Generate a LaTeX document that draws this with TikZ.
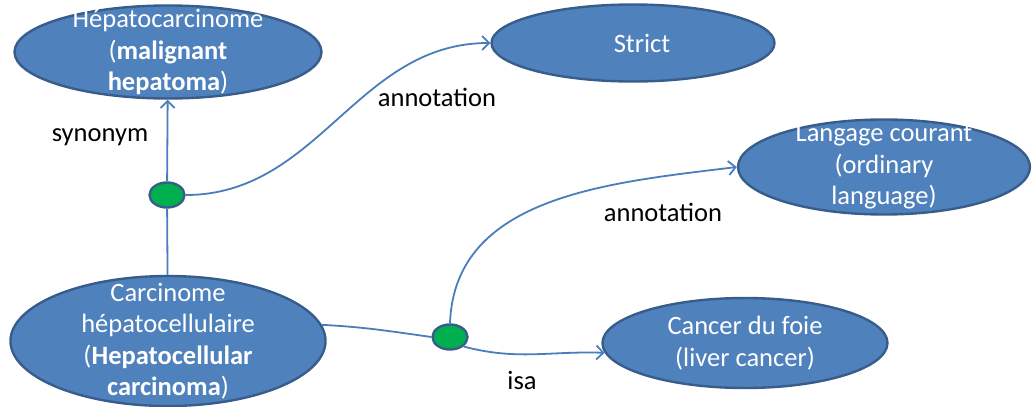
\documentclass[tikz,border=0pt]{standalone}
\usepackage{fontspec}
\setmainfont{Carlito}
\usetikzlibrary{arrows.meta, shapes.geometric, positioning}
\definecolor{conceptblue}{RGB}{79,129,189}
\definecolor{conceptline}{RGB}{56,93,138}
\definecolor{linkblue}{RGB}{74,126,187}
\definecolor{dotgreen}{RGB}{0,176,80}
\tikzset{
    concept/.style={ellipse, draw=conceptline, fill=conceptblue, line width=2.4pt, inner sep=0pt},
    ctext/.style={text=white, align=center, font=\fontsize{26.5}{31.5}\selectfont},
    reldot/.style={ellipse, draw=conceptline, fill=dotgreen, line width=2.4pt,
        minimum width=35pt, minimum height=25pt, inner sep=0pt},
    link/.style={draw=linkblue, line width=1.8pt},
    linkto/.style={link, -{Straight Barb[length=7pt,width=14pt]}},
    rellabel/.style={text=black, font=\fontsize{26.5}{31.5}\selectfont}
}

\begin{document}
\begin{tikzpicture}[x=1pt, y=-1pt]
    \useasboundingbox (0,0) rectangle (1034,407);
    % concepts
    \node[concept, minimum width=307pt, minimum height=93pt] (hep) at (168,52) {};
    \node[concept, minimum width=283pt, minimum height=77pt] (strict) at (633,43) {};
    \node[concept, minimum width=292pt, minimum height=95pt] (langage) at (884,167) {};
    \node[concept, minimum width=315pt, minimum height=130pt] (carc) at (168,341) {};
    \node[concept, minimum width=285pt, minimum height=90pt] (cancer) at (745,343) {};
    \node[ctext] (hepText) at (hep) {Hépatocarcinome\\(\textbf{malignant}\\\textbf{hepatoma})};
    \node[ctext] (strictText) at (642,43) {Strict};
    \node[ctext] (langageText) at (langage) {Langage courant\\(ordinary\\language)};
    \node[ctext] (carcText) at (carc) {Carcinome\\hépatocellulaire\\(\textbf{Hepatocellular}\\\textbf{carcinoma})};
    \node[ctext] (cancerText) at (cancer) {Cancer du foie\\(liver cancer)};
    % relation points
    \node[reldot] (dot1) at (167,195) {};
    \node[reldot] (dot2) at (450,337) {};
    % links
    \draw[link] (carc) -- (dot1);
    \draw[linkto] (dot1) -- (hep);
    \draw[linkto] (dot1.east) to[out=0, in=180] (strict.west);
    \draw[link] (carc.6) to[out=-3, in=172] (dot2.west);
    \draw[linkto] (dot2.-35) to[out=-15, in=178] (cancer.184);
    \draw[linkto] (dot2.north) to[out=88, in=187] (langage.west);
    % relation names
    \node[rellabel] (synLabel) at (100,137) {synonym};
    \node[rellabel] (annLabelA) at (437,97) {annotation};
    \node[rellabel] (annLabelB) at (663,212) {annotation};
    \node[rellabel] (isaLabel) at (522,380) {isa};
\end{tikzpicture}
\end{document}
